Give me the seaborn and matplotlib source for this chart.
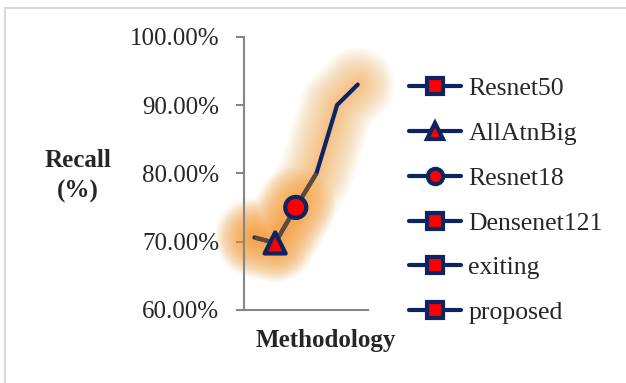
import numpy as np
import matplotlib.pyplot as plt
import seaborn as sns
import pandas as pd
from matplotlib.lines import Line2D
from matplotlib.patches import Rectangle
from matplotlib.ticker import FuncFormatter

methods = ['Resnet50', 'AllAtnBig', 'Resnet18', 'Densenet121', 'exiting', 'proposed']
recall = [70.6, 69.8, 75.0, 80.0, 90.0, 93.0]
legend_markers = ['s', '^', 'o', 's', 's', 's']
shown = ['AllAtnBig', 'Resnet18']   # only these markers show on the line
yticks = [60, 70, 80, 90, 100]

navy = '#0c2461'
brown = '#5b4a3e'
red = '#ff0000'
glow = '#f5a23c'

df = pd.DataFrame({'method': methods, 'recall': recall, 'pos': range(len(methods))})

sns.set_style('white')
plt.rcParams['font.family'] = ['Liberation Serif', 'DejaVu Serif']

fig = plt.figure(figsize=(6.26, 3.83), dpi=100)
ax = fig.add_axes([0.390, 0.191, 0.198, 0.713])

# outer chart frame
fig.patches.append(Rectangle((5 / 626, -0.05), 1.1, 1 - 8 / 383 + 0.05, transform=fig.transFigure,
                             fill=False, ec='#d9d9d9', lw=1.5, zorder=0))

# orange glow around the line: many thin-stepped layers for a soft edge
for lw in np.arange(54, 3, -2):
    ax.plot(df.pos, df.recall, color=glow, lw=lw, alpha=0.03, solid_capstyle='round',
            solid_joinstyle='round', clip_on=False, zorder=1)
low = df[df.pos <= 2]
for lw in np.arange(58, 6, -2):
    ax.plot(low.pos, low.recall, color=glow, lw=lw, alpha=0.035, solid_capstyle='round',
            solid_joinstyle='round', clip_on=False, zorder=1)

sns.lineplot(data=df, x='pos', y='recall', color=navy, lw=3, ax=ax, zorder=3, sort=False)
head = df[df.pos <= 3]
ax.plot(head.pos, head.recall, color=brown, lw=3, solid_capstyle='butt', zorder=3)

pts = df[df.method.isin(shown)]
sns.scatterplot(data=pts, x='pos', y='recall', style='method',
                markers={m: k for m, k in zip(methods, legend_markers)},
                s=230, color=red, edgecolor=navy, linewidth=3, ax=ax, zorder=4, legend=False)

ax.set_xlim(-0.5, len(methods) - 0.5)
ax.set_ylim(60, 100)
ax.set_xticks([])
ax.set_yticks(yticks)
ax.yaxis.set_major_formatter(FuncFormatter(lambda v, p: f'{v:.2f}%'))
ax.tick_params(axis='y', left=True, length=6, width=1.5, color='#868686', pad=12, labelsize=18)
for s in ['top', 'right']:
    ax.spines[s].set_visible(False)
for s in ['left', 'bottom']:
    ax.spines[s].set_color('#868686')
    ax.spines[s].set_linewidth(1.5)

ax.set_ylabel('Recall\n(%)', rotation=0, fontsize=18, fontweight='bold', ha='center', va='center',
              linespacing=1.4)
ax.yaxis.set_label_coords(-1.34, 0.49)
ax.set_xlabel('Methodology', fontsize=18, fontweight='bold')
ax.xaxis.set_label_coords(0.66, -0.07)

handles = [Line2D([], [], color=navy, lw=3, marker=mk, markersize=11, markerfacecolor=red,
                  markeredgecolor=navy, markeredgewidth=3) for mk in legend_markers]
ax.legend(handles, methods, loc='upper left', bbox_to_anchor=(1.25, 0.89), frameon=False,
          fontsize=18.5, handlelength=2.0, handletextpad=0.3, labelspacing=0.85, borderaxespad=0)

fig.savefig('out.png', dpi=100)
